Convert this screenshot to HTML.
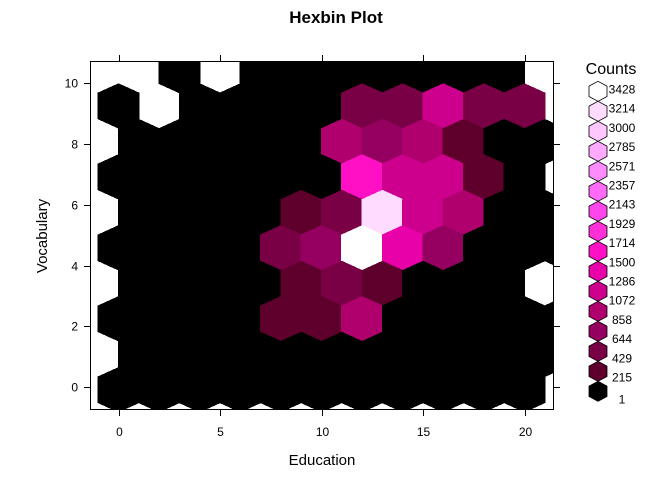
<!DOCTYPE html>
<html><head><meta charset="utf-8"><style>
html,body{margin:0;padding:0;background:#fff;}
svg{display:block;font-family:"Liberation Sans",Arial,sans-serif;}
</style></head><body>
<svg id="chart" width="672" height="480" viewBox="0 0 672 480">
<text x="336" y="23" text-anchor="middle" font-size="17" font-weight="bold">Hexbin Plot</text>
<text x="322" y="465" text-anchor="middle" font-size="15">Education</text>
<text x="0" y="0" transform="translate(47,236) rotate(-90)" text-anchor="middle" font-size="15">Vocabulary</text>
<text x="611" y="74" text-anchor="middle" font-size="16">Counts</text>
<defs><clipPath id="plotclip"><rect x="91" y="62" width="462" height="347"/></clipPath></defs>
<g id="cells" clip-path="url(#plotclip)" shape-rendering="crispEdges"></g>
<rect x="90.5" y="61.5" width="463" height="348" fill="none" stroke="#000" stroke-width="1"/>
<g id="axes"></g>
<g id="legend"></g>
</svg>
<script>
// x ticks / y ticks
const xTicks = [0, 5, 10, 15, 20];
const yTicks = [0, 2, 4, 6, 8, 10];
// hex row centres (data y), top row first
const rowY = [10.40, 9.24, 8.07, 6.91, 5.74, 4.58, 3.41, 2.25, 1.08, -0.08];
// first x centre of each row (step 2)
const rowX0 = [-1, 0, -1, 0, -1, 0, -1, 0, -1, 0];
// counts per row (null = empty cell)
const row0 = [null, null, 80, null, 90, 110, 120, 130, 120, 100, 60, null];
const row1 = [60, null, 90, 110, 150, 200, 500, 520, 1150, 540, 560, null];
const row2 = [null, 40, 70, 100, 140, 180, 950, 750, 980, 320, 150, 50];
const row3 = [50, 80, 120, 160, 180, 200, 1600, 1180, 1200, 330, 120, null];
const row4 = [null, 60, 90, 130, 190, 300, 520, 3100, 1150, 950, 140, 40];
const row5 = [50, 80, 120, 170, 560, 760, 3428, 1400, 770, 180, 100, 30];
const row6 = [null, 60, 100, 140, 200, 310, 500, 300, 190, 150, 80, null];
const row7 = [40, 70, 110, 160, 280, 300, 960, 200, 150, 110, 70, 20];
const row8 = [null, 50, 80, 110, 150, 190, 200, 180, 150, 110, 60, 20];
const row9 = [30, 50, 70, 100, 130, 160, 180, 150, 120, 90, 50, null];
const rows = [row0, row1, row2, row3, row4, row5, row6, row7, row8, row9];
// legend breaks and colours
const legendLabels = [3428, 3214, 3000, 2785, 2571, 2357, 2143, 1929, 1714, 1500, 1286, 1072, 858, 644, 429, 215, 1];
const palette = ["#000000","#5f002c","#7a0046","#950060","#b0006e","#cc008c","#e800a8","#ff10c4","#ff2fd8","#ff46ec","#ff6af8","#ff8cff","#ffaaff","#ffc6ff","#ffdcff","#ffffff"];

const NS = "http://www.w3.org/2000/svg";
const xS = v => 118.5 + 20.3 * v;
const yS = v => 387.3 - 30.45 * v;
const breaks = legendLabels.slice().reverse();
function colorFor(c){
  let k = 0;
  for (let i = 0; i < palette.length; i++) if (c >= breaks[i]) k = i;
  return palette[k];
}
function hexPts(cx, cy, hw, a, b){
  return [[cx, cy-a-b],[cx+hw, cy-a],[cx+hw, cy+a],[cx, cy+a+b],[cx-hw, cy+a],[cx-hw, cy-a]].map(p=>p.join(',')).join(' ');
}
const cells = document.getElementById('cells');
const hw = xS(1) - xS(0);
rows.forEach((row, r) => {
  row.forEach((c, i) => {
    if (c === null) return;
    const xv = rowX0[r] + 2 * i;
    const p = document.createElementNS(NS, 'polygon');
    
    
    p.setAttribute('points', hexPts(xS(xv), yS(rowY[r]), hw, 12.8, 9.2));
    const col = colorFor(c);
    p.setAttribute('fill', col);
    p.setAttribute('stroke', col);
    p.setAttribute('stroke-width', '1.2');
    cells.appendChild(p);
  });
});
const axes = document.getElementById('axes');
function line(x1,y1,x2,y2){
  const l = document.createElementNS(NS,'line');
  l.setAttribute('x1',x1);l.setAttribute('y1',y1);l.setAttribute('x2',x2);l.setAttribute('y2',y2);
  l.setAttribute('stroke','#000');
  
  
  axes.appendChild(l);
}
function text(x,y,s,anchor,size,name){
  const t = document.createElementNS(NS,'text');
  t.setAttribute('x',x);t.setAttribute('y',y);t.setAttribute('text-anchor',anchor);t.setAttribute('font-size',size);
  t.textContent = s;
  
  
  return t;
}
xTicks.forEach(v => {
  const x = Math.round(xS(v)) + 0.5;
  line(x, 409.5, x, 416); line(x, 61.5, x, 55);
  axes.appendChild(text(x, 436, String(v), 'middle', 12, 'x-tick-label'));
});
yTicks.forEach(v => {
  const y = Math.round(yS(v)) + 0.5;
  line(90.5, y, 84, y); line(553.5, y, 560, y);
  axes.appendChild(text(78, y + 4, String(v), 'end', 12, 'y-tick-label'));
});
const legend = document.getElementById('legend');
for (let i = 0; i < palette.length; i++) {
  const p = document.createElementNS(NS, 'polygon');
  
  
  p.setAttribute('points', hexPts(598, 91.3 + 20 * i, 9, 5.2, 4.8));
  p.setAttribute('fill', palette[palette.length - 1 - i]);
  p.setAttribute('stroke', '#000');
  p.setAttribute('stroke-width', '0.8');
  legend.appendChild(p);
}
legendLabels.forEach((v, i) => {
  legend.appendChild(text(622, 93.5 + 19.2 * i + (i === 16 ? 3 : 0), String(v), 'middle', 12, 'legend-label'));
});
</script>
</body></html>
